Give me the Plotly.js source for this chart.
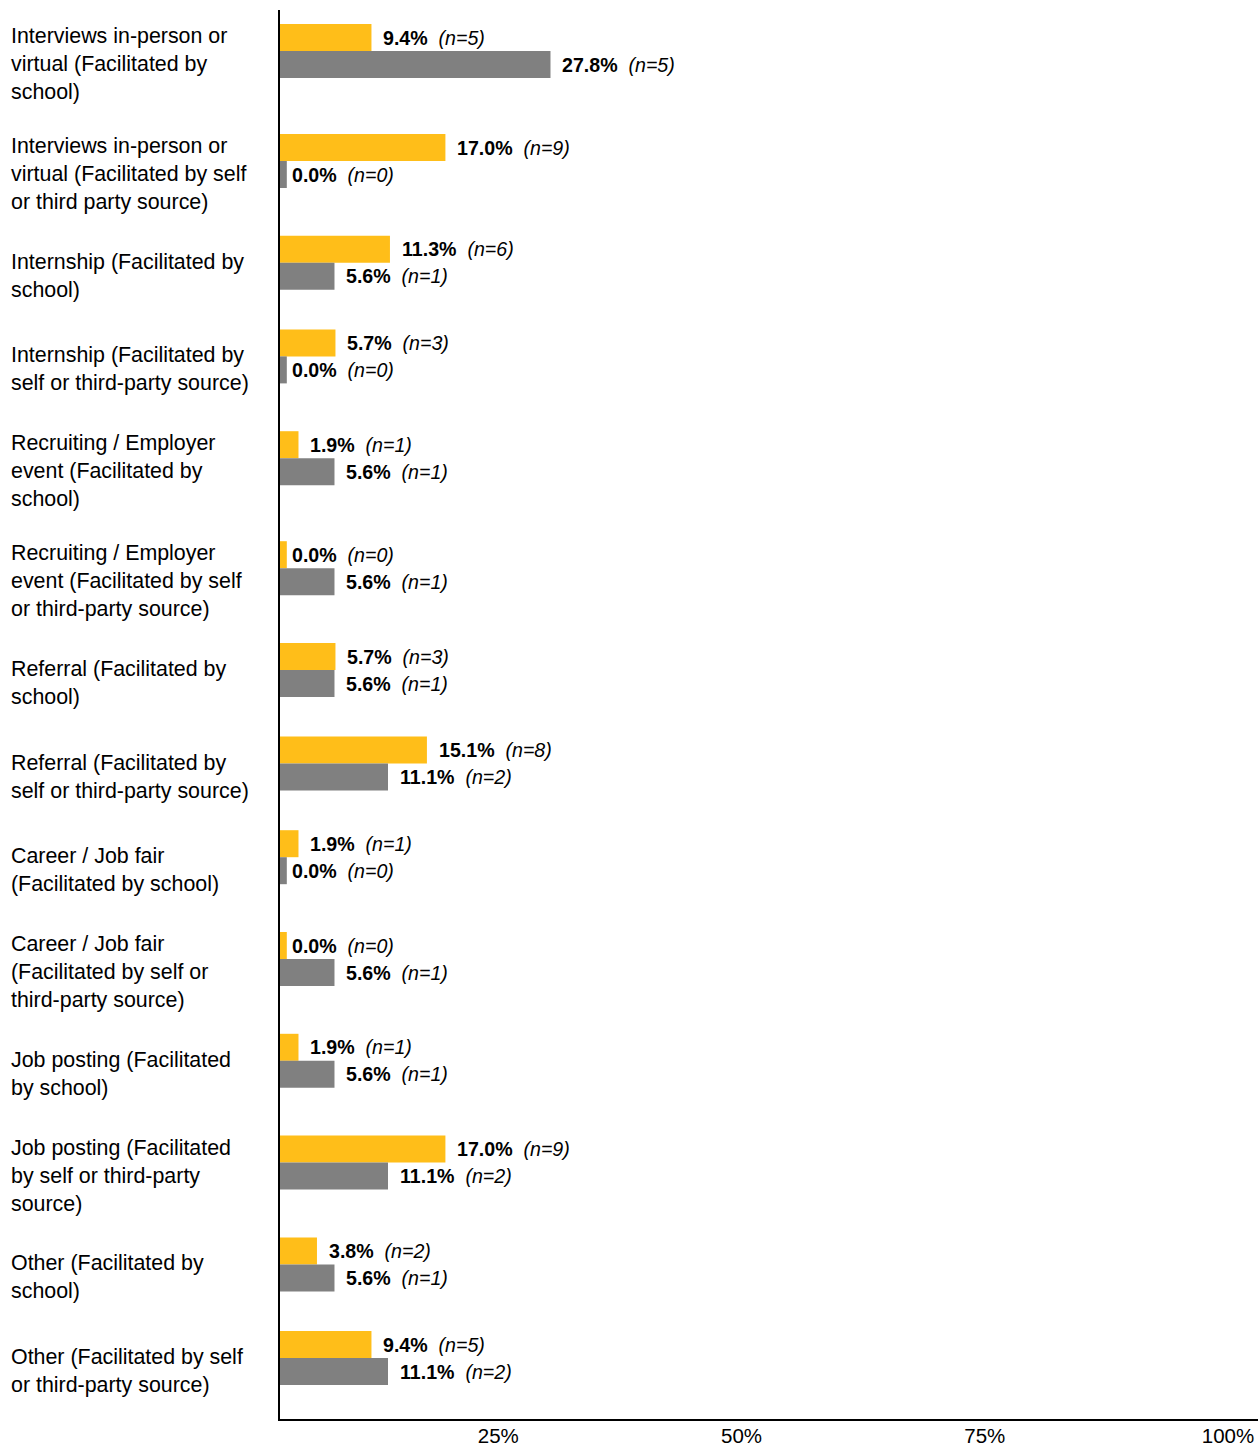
<!DOCTYPE html>
<html>
<head>
<meta charset="utf-8">
<script src="https://cdn.plot.ly/plotly-3.0.1.min.js"></script>
<style>
  html, body { margin: 0; padding: 0; background: #ffffff; }
  #chart { width: 1258px; height: 1447px; }
</style>
</head>
<body>
<div id="chart"></div>
<script>
// ---- Data ----
const categories = [
  "Interviews in-person or<br>virtual (Facilitated by<br>school)",
  "Interviews in-person or<br>virtual (Facilitated by self<br>or third party source)",
  "Internship (Facilitated by<br>school)",
  "Internship (Facilitated by<br>self or third-party source)",
  "Recruiting / Employer<br>event (Facilitated by<br>school)",
  "Recruiting / Employer<br>event (Facilitated by self<br>or third-party source)",
  "Referral (Facilitated by<br>school)",
  "Referral (Facilitated by<br>self or third-party source)",
  "Career / Job fair<br>(Facilitated by school)",
  "Career / Job fair<br>(Facilitated by self or<br>third-party source)",
  "Job posting (Facilitated<br>by school)",
  "Job posting (Facilitated<br>by self or third-party<br>source)",
  "Other (Facilitated by<br>school)",
  "Other (Facilitated by self<br>or third-party source)"
];
const seriesAPct = [9.4, 17.0, 11.3, 5.7, 1.9, 0.0, 5.7, 15.1, 1.9, 0.0, 1.9, 17.0, 3.8, 9.4];
const seriesAN   = [5, 9, 6, 3, 1, 0, 3, 8, 1, 0, 1, 9, 2, 5];
const seriesBPct = [27.8, 0.0, 5.6, 0.0, 5.6, 5.6, 5.6, 11.1, 0.0, 5.6, 5.6, 11.1, 5.6, 11.1];
const seriesBN   = [5, 0, 1, 0, 1, 1, 1, 2, 0, 1, 1, 2, 1, 2];
const tickVals   = [25, 50, 75, 100];
const tickLabels = ["25%", "50%", "75%", "100%"];

// ---- Styling / layout constants ----
const COLOR_A = "#FFBE19";
const COLOR_B = "#808080";
const FONT = "Liberation Sans, Arial, Helvetica, sans-serif";
const W = 1258, H = 1447;
const M = { l: 280, r: 0, t: 10, b: 28 };
const BAR_W = 27;          // thickness of each bar (axis units = px)
const STUB = 0.7;          // minimum visible stub for zero values
const HALF = { 2: 46.8, 3: 55 }; // half row heights by label line count
const TOP_PAD = 41, BOTTOM_PAD = 61;

// row centers derived from label line counts
const lines = categories.map(c => c.split("<br>").length);
const centers = [];
lines.forEach((n, i) => {
  if (i === 0) centers.push(0);
  else centers.push(centers[i - 1] + HALF[lines[i - 1]] + HALF[n]);
});
const yRange = [centers[centers.length - 1] + BOTTOM_PAD, -TOP_PAD];

const plotW = W - M.l - M.r;
const xMax = 100 * plotW / 973;

const traceA = {
  type: "bar", orientation: "h", name: "Series A",
  y: centers, x: seriesAPct.map(v => Math.max(v, STUB)),
  width: BAR_W, offset: -BAR_W,
  marker: { color: COLOR_A }, hoverinfo: "skip"
};
const traceB = {
  type: "bar", orientation: "h", name: "Series B",
  y: centers, x: seriesBPct.map(v => Math.max(v, STUB)),
  width: BAR_W, offset: 0,
  marker: { color: COLOR_B }, hoverinfo: "skip"
};

const NB = "\u00A0";
const annotations = [];
categories.forEach((c, i) => {
  annotations.push({
    xref: "paper", yref: "y",
    x: (9 - M.l) / plotW, y: centers[i], yshift: -13,
    xanchor: "left", yanchor: "middle", align: "left",
    text: c, showarrow: false,
    font: { family: FONT, size: 21.4, color: "#000000" }
  });
  annotations.push({
    xref: "x", yref: "y",
    x: seriesAPct[i], y: centers[i] - BAR_W / 2,
    xanchor: "left", yanchor: "middle", xshift: 10,
    text: "<b>" + seriesAPct[i].toFixed(1) + "%</b>" + NB + NB + "<i>(n=" + seriesAN[i] + ")</i>",
    showarrow: false,
    font: { family: FONT, size: 19.6, color: "#000000" }
  });
  annotations.push({
    xref: "x", yref: "y",
    x: seriesBPct[i], y: centers[i] + BAR_W / 2,
    xanchor: "left", yanchor: "middle", xshift: 10,
    text: "<b>" + seriesBPct[i].toFixed(1) + "%</b>" + NB + NB + "<i>(n=" + seriesBN[i] + ")</i>",
    showarrow: false,
    font: { family: FONT, size: 19.6, color: "#000000" }
  });
});

const layout = {
  width: W, height: H,
  margin: M,
  paper_bgcolor: "#ffffff", plot_bgcolor: "#ffffff",
  barmode: "overlay",
  showlegend: false,
  xaxis: {
    range: [0, xMax], fixedrange: true,
    showgrid: false, zeroline: false,
    showline: true, linecolor: "#000000", linewidth: 2,
    tickmode: "array", tickvals: tickVals, ticktext: tickLabels,
    ticks: "", ticklabelshift: -25, ticklabelstandoff: -3,
    tickfont: { family: FONT, size: 20.5, color: "#000000" }
  },
  yaxis: {
    range: yRange, fixedrange: true,
    showgrid: false, zeroline: false,
    showline: true, linecolor: "#000000", linewidth: 2,
    showticklabels: false, ticks: ""
  },
  annotations: annotations,
  font: { family: FONT }
};

Plotly.newPlot("chart", [traceA, traceB], layout, { displayModeBar: false, staticPlot: true });
</script>
</body>
</html>
